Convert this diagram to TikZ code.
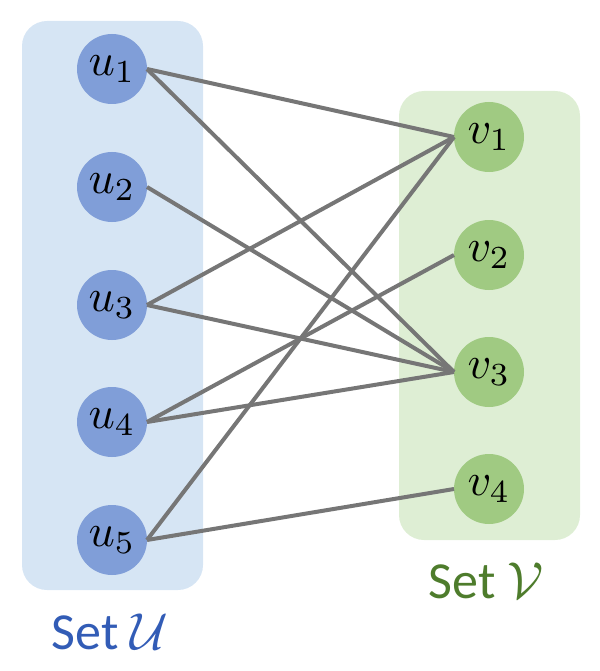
\documentclass[tikz,border=0pt]{standalone}
\usepackage{fontspec}
\newfontfamily\labelfont{Carlito}
\usepackage{tikz}
\usetikzlibrary{positioning}
\newcommand\bigmath[2]{\scalebox{#1}{\fontsize{10}{12}\selectfont$#2$}}
\definecolor{setublue}{RGB}{214, 229, 244}
\definecolor{nodeblue}{RGB}{128, 158, 216}
\definecolor{setvgreen}{RGB}{222, 238, 212}
\definecolor{nodegreen}{RGB}{160, 202, 130}
\definecolor{edgegray}{RGB}{118, 118, 118}
\definecolor{textblue}{RGB}{50, 92, 182}
\definecolor{textgreen}{RGB}{78, 124, 44}

\begin{document}
\begin{tikzpicture}[x=1pt, y=-1pt,
  vert/.style={circle, minimum size=70pt, inner sep=0pt, outer sep=0pt},
  setbox/.style={rounded corners=25pt},
  setlabel/.style={font=\labelfont\fontsize{52}{56}\selectfont},
  edge/.style={draw=edgegray, line width=4pt}]
\useasboundingbox (0,0) rectangle (599,671);
% the two sets
\fill[setublue, setbox] (22,21) rectangle (203,590);
\fill[setvgreen, setbox] (399,91) rectangle (580,540);
% vertices
\foreach \i/\y in {1/69, 2/187, 3/305, 4/422, 5/540}
  \node[vert, fill=nodeblue] (u\i) at (112,\y) {\bigmath{4.6}{u_{\i}}};
\foreach \i/\y in {1/137, 2/255, 3/372, 4/489}
  \node[vert, fill=nodegreen] (v\i) at (489,\y) {\bigmath{4.6}{v_{\i}}};
% edges
\foreach \a/\b in {1/1, 1/3, 2/3, 3/1, 3/3, 4/2, 4/3, 5/1, 5/4}
  \draw[edge] (u\a.east) -- (v\b.west);
% set names
\node[setlabel, text=textblue] (setu) at (110,632) {Set \bigmath{5.2}{\mathcal{U}}};
\node[setlabel, text=textgreen] (setv) at (486,581) {Set \bigmath{5.2}{\mathcal{V}}};
\end{tikzpicture}
\end{document}
